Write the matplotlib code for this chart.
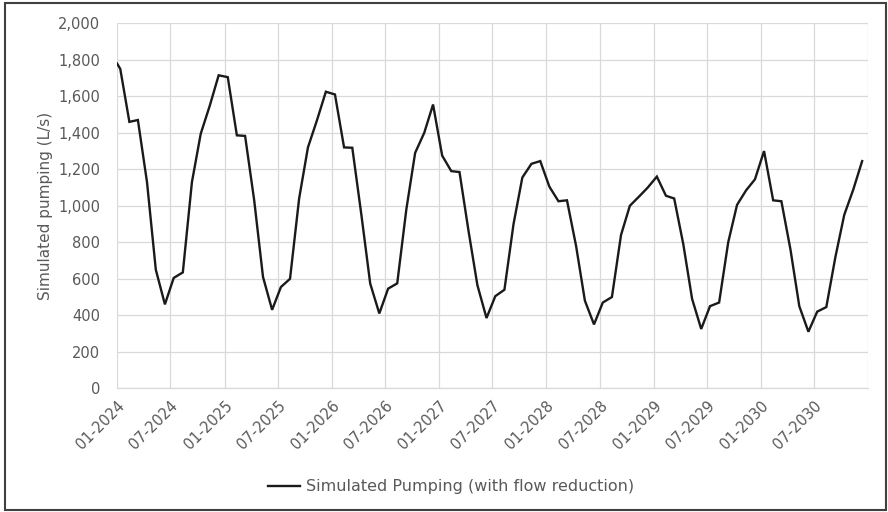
"""Simulated pumping (with flow reduction), monthly 2024-2030."""

import matplotlib
matplotlib.use("Agg")
import matplotlib.pyplot as plt
from matplotlib.patches import Rectangle
from matplotlib.ticker import FuncFormatter, MultipleLocator
import pandas as pd

C_LINE = "#1a1a1a"
C_TICK = "#595959"
C_GRID = "#d9d9d9"
C_FRAME = "#404040"
FONT = "DejaVu Sans"

# first value at the axis origin, then one value per month
START = "2024-01-01"
MONTHS = pd.date_range("2024-01-01", periods=84, freq="MS") + pd.Timedelta(days=11)
dates = [pd.Timestamp(START)] + list(MONTHS)

pumping = [
    1780, 1750, 1460, 1470, 1130, 650, 460, 605, 635, 1130, 1395, 1550, 1715,   # 2024
    1705, 1386, 1383, 1030, 610, 430, 555, 600, 1040, 1320, 1470, 1625,          # 2025
    1610, 1320, 1318, 950, 574, 410, 546, 575, 980, 1290, 1400, 1555,            # 2026
    1275, 1190, 1185, 860, 565, 385, 505, 540, 900, 1155, 1230, 1245,            # 2027
    1105, 1025, 1030, 780, 480, 350, 470, 500, 840, 1000, 1050, 1100,            # 2028
    1160, 1055, 1040, 790, 490, 325, 450, 470, 800, 1005, 1085, 1145,            # 2029
    1300, 1030, 1025, 760, 450, 310, 420, 445, 720, 950, 1090, 1245,             # 2030
]

tick_dates = pd.date_range("2024-01-01", "2031-01-01", freq="6MS")
tick_labels = [d.strftime("%m-%Y") for d in tick_dates[:-1]] + [""]

fig = plt.figure(figsize=(8.88, 5.12), dpi=100)
fig.patch.set_facecolor("white")
ax = fig.add_axes([0.1318, 0.2416, 0.9775 - 0.1318, 0.9545 - 0.2416])

line, = ax.plot(dates, pumping, color=C_LINE, lw=1.7, solid_joinstyle="miter",
                label="Simulated Pumping (with flow reduction)", zorder=3)

ax.set_xlim(tick_dates[0], tick_dates[-1])
ax.set_ylim(0, 2000)
ax.yaxis.set_major_locator(MultipleLocator(200))
ax.yaxis.set_major_formatter(FuncFormatter(lambda v, p: f"{int(v):,}"))
ax.set_xticks(tick_dates)
ax.set_xticklabels(tick_labels, rotation=45, ha="right", rotation_mode="anchor")

ax.grid(True, color=C_GRID, lw=0.9, zorder=0)
ax.set_axisbelow(True)
for side in ("top", "right", "left"):
    ax.spines[side].set_visible(False)
ax.spines["bottom"].set_color(C_GRID)
ax.spines["bottom"].set_linewidth(0.9)

ax.tick_params(length=0, colors=C_TICK, labelsize=10.5)
ax.tick_params(axis="y", pad=12)
ax.tick_params(axis="x", pad=7)
for lab in ax.get_xticklabels() + ax.get_yticklabels():
    lab.set_family(FONT)

ax.set_ylabel("Simulated pumping (L/s)", color=C_TICK, fontsize=11, family=FONT, labelpad=3.5)

fig.legend(handles=[line], loc="center", bbox_to_anchor=(0.508, 0.049), frameon=False,
           handlelength=2.0, handletextpad=0.4,
           prop={"family": FONT, "size": 11.5}, labelcolor=C_TICK)

fig.patches.append(Rectangle((0.0056, 0.003), 0.992, 0.991, transform=fig.transFigure,
                             fill=False, edgecolor=C_FRAME, lw=1.5))

fig.savefig("out.png", dpi=100, facecolor="white")
plt.close(fig)
